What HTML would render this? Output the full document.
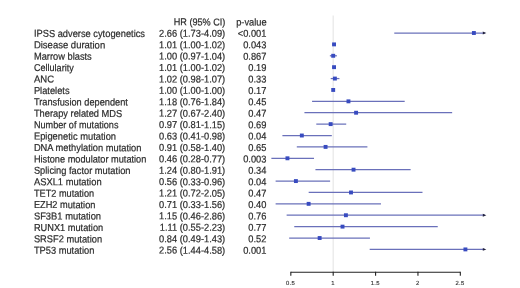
<!DOCTYPE html>
<html lang="en"><head><meta charset="utf-8"><title>Forest plot</title>
<style>html,body{margin:0;padding:0;background:#fff}body{width:520px;height:288px;overflow:hidden}svg{display:block}text{text-rendering:geometricPrecision;font-family:"Liberation Sans",Arial,sans-serif;font-size:9.3px;fill:#2c2c2c;stroke:#2c2c2c;stroke-width:0.2px}.t{font-size:5.9px;stroke-width:0.12px;text-anchor:middle}.r{text-anchor:end}</style></head><body>
<svg width="520" height="288" viewBox="0 0 520 288">
<rect width="520" height="288" fill="#fff"/>
<defs><filter id="b" x="0" y="0" width="520" height="288" filterUnits="userSpaceOnUse"><feGaussianBlur stdDeviation="0.45"/></filter></defs>
<g filter="url(#b)">
<line x1="333.20" y1="15.6" x2="333.20" y2="272" stroke="#e9e9e9" stroke-width="1.3"/>
<text class="r" textLength="51.70" lengthAdjust="spacingAndGlyphs" transform="matrix(1 0.002 0 1.08 225.40 25.44)">HR (95% CI)</text>
<text class="r" transform="matrix(1 0.002 0 1.08 266.70 25.44)">p-value</text>
<text transform="matrix(1 0.002 0 1.08 33.90 36.85)">IPSS adverse cytogenetics</text>
<text class="r" transform="matrix(1 0.002 0 1.08 225.20 36.85)">2.66 (1.73-4.09)</text>
<text class="r" transform="matrix(1 0.002 0 1.08 266.40 36.85)">&lt;0.001</text>
<line x1="394.27" y1="33.00" x2="484.60" y2="33.00" stroke="#6a70ba" stroke-width="1.25"/>
<path d="M486.30 33.00l-3.5 -1.4v2.8z" fill="#20203c"/>
<rect x="471.94" y="31.05" width="3.9" height="3.9" fill="#384cc0"/>
<text textLength="71.28" lengthAdjust="spacingAndGlyphs" transform="matrix(1 0.002 0 1.08 33.90 48.27)">Disease duration</text>
<text class="r" transform="matrix(1 0.002 0 1.08 225.20 48.27)">1.01 (1.00-1.02)</text>
<text class="r" transform="matrix(1 0.002 0 1.08 266.40 48.27)">0.043</text>
<line x1="332.40" y1="44.39" x2="335.19" y2="44.39" stroke="#6a70ba" stroke-width="1.25"/>
<rect x="332.10" y="42.44" width="3.9" height="3.9" fill="#384cc0"/>
<text transform="matrix(1 0.002 0 1.08 33.90 59.68)">Marrow blasts</text>
<text class="r" transform="matrix(1 0.002 0 1.08 225.20 59.68)">1.00 (0.97-1.04)</text>
<text class="r" transform="matrix(1 0.002 0 1.08 266.40 59.68)">0.867</text>
<line x1="329.86" y1="55.78" x2="336.89" y2="55.78" stroke="#6a70ba" stroke-width="1.25"/>
<rect x="331.25" y="53.83" width="3.9" height="3.9" fill="#384cc0"/>
<text textLength="39.83" lengthAdjust="spacingAndGlyphs" transform="matrix(1 0.002 0 1.08 33.90 71.09)">Cellularity</text>
<text class="r" transform="matrix(1 0.002 0 1.08 225.20 71.09)">1.01 (1.00-1.02)</text>
<text class="r" transform="matrix(1 0.002 0 1.08 266.40 71.09)">0.19</text>
<line x1="332.40" y1="67.17" x2="335.19" y2="67.17" stroke="#6a70ba" stroke-width="1.25"/>
<rect x="332.10" y="65.22" width="3.9" height="3.9" fill="#384cc0"/>
<text textLength="20.14" lengthAdjust="spacingAndGlyphs" transform="matrix(1 0.002 0 1.08 33.90 82.51)">ANC</text>
<text class="r" transform="matrix(1 0.002 0 1.08 225.20 82.51)">1.02 (0.98-1.07)</text>
<text class="r" transform="matrix(1 0.002 0 1.08 266.40 82.51)">0.33</text>
<line x1="330.70" y1="78.56" x2="339.43" y2="78.56" stroke="#6a70ba" stroke-width="1.25"/>
<rect x="332.94" y="76.61" width="3.9" height="3.9" fill="#384cc0"/>
<text transform="matrix(1 0.002 0 1.08 33.90 93.92)">Platelets</text>
<text class="r" transform="matrix(1 0.002 0 1.08 225.20 93.92)">1.00 (1.00-1.00)</text>
<text class="r" transform="matrix(1 0.002 0 1.08 266.40 93.92)">0.17</text>
<rect x="331.25" y="88.00" width="3.9" height="3.9" fill="#384cc0"/>
<text textLength="94.02" lengthAdjust="spacingAndGlyphs" transform="matrix(1 0.002 0 1.08 33.90 105.34)">Transfusion dependent</text>
<text class="r" transform="matrix(1 0.002 0 1.08 225.20 105.34)">1.18 (0.76-1.84)</text>
<text class="r" transform="matrix(1 0.002 0 1.08 266.40 105.34)">0.45</text>
<line x1="312.06" y1="101.34" x2="404.69" y2="101.34" stroke="#6a70ba" stroke-width="1.25"/>
<rect x="346.50" y="99.39" width="3.9" height="3.9" fill="#384cc0"/>
<text transform="matrix(1 0.002 0 1.08 33.90 116.75)">Therapy related MDS</text>
<text class="r" transform="matrix(1 0.002 0 1.08 225.20 116.75)">1.27 (0.67-2.40)</text>
<text class="r" transform="matrix(1 0.002 0 1.08 266.40 116.75)">0.47</text>
<line x1="304.43" y1="112.73" x2="452.15" y2="112.73" stroke="#6a70ba" stroke-width="1.25"/>
<rect x="354.13" y="110.78" width="3.9" height="3.9" fill="#384cc0"/>
<text textLength="84.55" lengthAdjust="spacingAndGlyphs" transform="matrix(1 0.002 0 1.08 33.90 128.17)">Number of mutations</text>
<text class="r" transform="matrix(1 0.002 0 1.08 225.20 128.17)">0.97 (0.81-1.15)</text>
<text class="r" transform="matrix(1 0.002 0 1.08 266.40 128.17)">0.69</text>
<line x1="316.30" y1="124.12" x2="346.21" y2="124.12" stroke="#6a70ba" stroke-width="1.25"/>
<rect x="328.71" y="122.17" width="3.9" height="3.9" fill="#384cc0"/>
<text textLength="82.17" lengthAdjust="spacingAndGlyphs" transform="matrix(1 0.002 0 1.08 33.90 139.58)">Epigenetic mutation</text>
<text class="r" transform="matrix(1 0.002 0 1.08 225.20 139.58)">0.63 (0.41-0.98)</text>
<text class="r" transform="matrix(1 0.002 0 1.08 266.40 139.58)">0.04</text>
<line x1="282.40" y1="135.51" x2="331.81" y2="135.51" stroke="#6a70ba" stroke-width="1.25"/>
<rect x="299.89" y="133.56" width="3.9" height="3.9" fill="#384cc0"/>
<text transform="matrix(1 0.002 0 1.08 33.90 151.00)">DNA methylation mutation</text>
<text class="r" transform="matrix(1 0.002 0 1.08 225.20 151.00)">0.91 (0.58-1.40)</text>
<text class="r" transform="matrix(1 0.002 0 1.08 266.40 151.00)">0.65</text>
<line x1="296.80" y1="146.90" x2="367.40" y2="146.90" stroke="#6a70ba" stroke-width="1.25"/>
<rect x="323.62" y="144.95" width="3.9" height="3.9" fill="#384cc0"/>
<text textLength="112.44" lengthAdjust="spacingAndGlyphs" transform="matrix(1 0.002 0 1.08 33.90 162.41)">Histone modulator mutation</text>
<text class="r" transform="matrix(1 0.002 0 1.08 225.20 162.41)">0.46 (0.28-0.77)</text>
<text class="r" transform="matrix(1 0.002 0 1.08 266.40 162.41)">0.003</text>
<line x1="271.38" y1="158.29" x2="314.01" y2="158.29" stroke="#6a70ba" stroke-width="1.25"/>
<rect x="285.49" y="156.34" width="3.9" height="3.9" fill="#384cc0"/>
<text transform="matrix(1 0.002 0 1.08 33.90 173.83)">Splicing factor mutation</text>
<text class="r" transform="matrix(1 0.002 0 1.08 225.20 173.83)">1.24 (0.80-1.91)</text>
<text class="r" transform="matrix(1 0.002 0 1.08 266.40 173.83)">0.34</text>
<line x1="315.45" y1="169.68" x2="410.62" y2="169.68" stroke="#6a70ba" stroke-width="1.25"/>
<rect x="351.59" y="167.73" width="3.9" height="3.9" fill="#384cc0"/>
<text textLength="67.69" lengthAdjust="spacingAndGlyphs" transform="matrix(1 0.002 0 1.08 33.90 185.24)">ASXL1 mutation</text>
<text class="r" transform="matrix(1 0.002 0 1.08 225.20 185.24)">0.56 (0.33-0.96)</text>
<text class="r" transform="matrix(1 0.002 0 1.08 266.40 185.24)">0.04</text>
<line x1="275.62" y1="181.07" x2="330.11" y2="181.07" stroke="#6a70ba" stroke-width="1.25"/>
<rect x="293.96" y="179.12" width="3.9" height="3.9" fill="#384cc0"/>
<text textLength="60.23" lengthAdjust="spacingAndGlyphs" transform="matrix(1 0.002 0 1.08 33.90 196.66)">TET2 mutation</text>
<text class="r" transform="matrix(1 0.002 0 1.08 225.20 196.66)">1.21 (0.72-2.05)</text>
<text class="r" transform="matrix(1 0.002 0 1.08 266.40 196.66)">0.47</text>
<line x1="308.67" y1="192.46" x2="422.49" y2="192.46" stroke="#6a70ba" stroke-width="1.25"/>
<rect x="349.05" y="190.51" width="3.9" height="3.9" fill="#384cc0"/>
<text textLength="61.52" lengthAdjust="spacingAndGlyphs" transform="matrix(1 0.002 0 1.08 33.90 208.07)">EZH2 mutation</text>
<text class="r" transform="matrix(1 0.002 0 1.08 225.20 208.07)">0.71 (0.33-1.56)</text>
<text class="r" transform="matrix(1 0.002 0 1.08 266.40 208.07)">0.40</text>
<line x1="275.62" y1="203.85" x2="380.96" y2="203.85" stroke="#6a70ba" stroke-width="1.25"/>
<rect x="306.67" y="201.90" width="3.9" height="3.9" fill="#384cc0"/>
<text textLength="67.17" lengthAdjust="spacingAndGlyphs" transform="matrix(1 0.002 0 1.08 33.90 219.49)">SF3B1 mutation</text>
<text class="r" transform="matrix(1 0.002 0 1.08 225.20 219.49)">1.15 (0.46-2.86)</text>
<text class="r" transform="matrix(1 0.002 0 1.08 266.40 219.49)">0.76</text>
<line x1="286.63" y1="215.24" x2="484.60" y2="215.24" stroke="#6a70ba" stroke-width="1.25"/>
<path d="M486.30 215.24l-3.5 -1.4v2.8z" fill="#20203c"/>
<rect x="343.96" y="213.29" width="3.9" height="3.9" fill="#384cc0"/>
<text textLength="69.27" lengthAdjust="spacingAndGlyphs" transform="matrix(1 0.002 0 1.08 33.90 230.90)">RUNX1 mutation</text>
<text class="r" transform="matrix(1 0.002 0 1.08 225.20 230.90)">1.11 (0.55-2.23)</text>
<text class="r" transform="matrix(1 0.002 0 1.08 266.40 230.90)">0.77</text>
<line x1="294.26" y1="226.63" x2="437.74" y2="226.63" stroke="#6a70ba" stroke-width="1.25"/>
<rect x="340.57" y="224.68" width="3.9" height="3.9" fill="#384cc0"/>
<text transform="matrix(1 0.002 0 1.08 33.90 242.32)">SRSF2 mutation</text>
<text class="r" transform="matrix(1 0.002 0 1.08 225.20 242.32)">0.84 (0.49-1.43)</text>
<text class="r" transform="matrix(1 0.002 0 1.08 266.40 242.32)">0.52</text>
<line x1="289.18" y1="238.02" x2="369.94" y2="238.02" stroke="#6a70ba" stroke-width="1.25"/>
<rect x="317.69" y="236.07" width="3.9" height="3.9" fill="#384cc0"/>
<text transform="matrix(1 0.002 0 1.08 33.90 253.73)">TP53 mutation</text>
<text class="r" transform="matrix(1 0.002 0 1.08 225.20 253.73)">2.56 (1.44-4.58)</text>
<text class="r" transform="matrix(1 0.002 0 1.08 266.40 253.73)">0.001</text>
<line x1="369.69" y1="249.41" x2="484.60" y2="249.41" stroke="#6a70ba" stroke-width="1.25"/>
<path d="M486.30 249.41l-3.5 -1.4v2.8z" fill="#20203c"/>
<rect x="463.46" y="247.46" width="3.9" height="3.9" fill="#384cc0"/>
<path d="M290.82 272.25H460.32" stroke="#222" stroke-width="1.2" fill="none"/>
<line x1="290.82" y1="271.65" x2="290.82" y2="275.65" stroke="#222" stroke-width="1.1"/>
<text class="t" x="290.43" y="285.1" textLength="8.9" lengthAdjust="spacing">0.5</text>
<line x1="333.20" y1="271.65" x2="333.20" y2="275.65" stroke="#222" stroke-width="1.1"/>
<text class="t" x="332.80" y="285.1">1</text>
<line x1="375.57" y1="271.65" x2="375.57" y2="275.65" stroke="#222" stroke-width="1.1"/>
<text class="t" x="375.18" y="285.1" textLength="8.9" lengthAdjust="spacing">1.5</text>
<line x1="417.95" y1="271.65" x2="417.95" y2="275.65" stroke="#222" stroke-width="1.1"/>
<text class="t" x="417.55" y="285.1">2</text>
<line x1="460.32" y1="271.65" x2="460.32" y2="275.65" stroke="#222" stroke-width="1.1"/>
<text class="t" x="459.93" y="285.1" textLength="8.9" lengthAdjust="spacing">2.5</text>
</g></svg></body></html>
